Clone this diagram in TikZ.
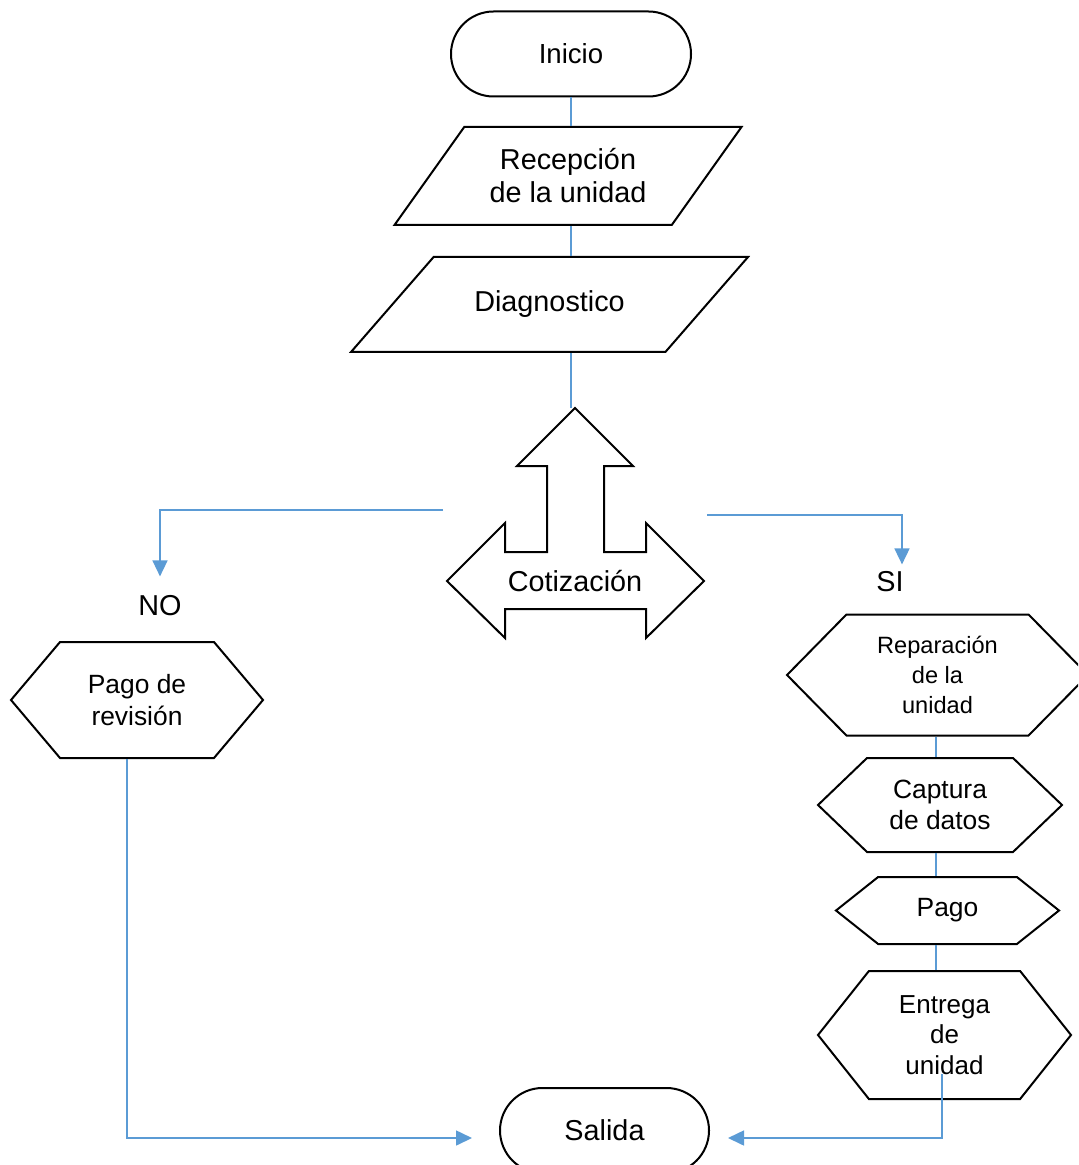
\documentclass[tikz,border=0pt]{standalone}
\usepackage{fontspec}
\setmainfont{Liberation Sans}
\usetikzlibrary{shapes.geometric,shapes.misc,shapes.symbols,arrows.meta}
\definecolor{flowblue}{HTML}{5B9BD5}

\tikzset{
  box/.style={draw,line width=1pt,align=center,inner sep=0pt},
  txt/.style={font=\fontsize{13.2}{15.8}\selectfont},
  bigtxt/.style={font=\fontsize{14.4}{16.5}\selectfont},
  term/.style={box,txt,rounded rectangle,minimum height=42.5pt},
  data/.style={box,bigtxt,trapezium,trapezium stretches body},
  prep/.style={box,txt,signal,signal to=west and east},
  link/.style={draw=flowblue,line width=0.8pt},
  flow/.style={link,-{Triangle[length=8pt,width=7.5pt]}}
}

\begin{document}
\begin{tikzpicture}[x=0.5pt,y=-0.5pt]
    \useasboundingbox (0,0) rectangle (1078,1165);
    \clip (0,0) rectangle (1078,1165);

    \node [term,font=\fontsize{13.8}{16}\selectfont,minimum width=120pt] (ini) at (571,54) {Inicio};
    \node [data,trapezium left angle=38,trapezium right angle=142,
           minimum width=173.5pt,minimum height=49pt] (rec) at (568,176)
          {Recepción\\de la unidad};
    \node [data,trapezium left angle=18,trapezium right angle=162,
           minimum width=198.5pt,minimum height=47.5pt] (diag) at (549.5,304.5)
          {Diagnostico};

    % three way arrow
    \draw [line width=1pt] (575,408) -- (633,466) -- (604,466) -- (604,552)
        -- (646,552) -- (646,523) -- (704,581) -- (646,638) -- (646,609)
        -- (505,609) -- (505,638) -- (447,581) -- (505,523) -- (505,552)
        -- (547,552) -- (547,466) -- (517,466) -- cycle;
    \coordinate (cotTip) at (575,408);
    \node [bigtxt] (cot) at (575,581) {Cotización};

    \node [bigtxt,inner sep=0pt] (no) at (160,606) {NO};
    \node [bigtxt,inner sep=0pt] (si) at (890,582) {SI};

    \node [prep,signal pointer angle=99.6,minimum width=126pt,minimum height=58pt]
          (pr) at (137,700) {Pago de\\revisión};

    \node [prep,font=\fontsize{11.8}{15}\selectfont,signal pointer angle=91,
           minimum width=150.5pt,minimum height=60.5pt]
          (rep) at (937.5,675) {Reparación\\de la\\unidad};
    \node [prep,signal pointer angle=87.6,minimum width=122pt,minimum height=47pt]
          (cap) at (940,805) {Captura\\de datos};
    \node [prep,signal pointer angle=77,minimum width=111.5pt,minimum height=33.5pt]
          (pago) at (947.5,910.5) {Pago};
    \node [prep,font=\fontsize{13}{15.3}\selectfont,signal pointer angle=103,
           minimum width=126.5pt,minimum height=64pt]
          (ent) at (944.5,1035) {Entrega\\de\\unidad};

    \node [term,bigtxt,minimum width=104.5pt] (sal) at (604.5,1130.5) {Salida};

    % main line
    \draw [link] (ini.south) -- (ini.south |- rec.north);
    \draw [link] (ini.south |- rec.south) -- (ini.south |- diag.north);
    \draw [link] (ini.south |- diag.south) -- (ini.south |- cotTip);

    % branches
    \coordinate (noStart) at (443,510);
    \coordinate (siStart) at (707,515);
    \draw [flow,shorten >=9.5pt] (noStart) -| (no.north);
    \draw [flow,shorten >=3.5pt] (siStart) -| ([xshift=6pt]si.north);

    % right column
    \draw [link] ([xshift=-0.75pt]rep.south) -- ([xshift=-0.75pt]rep.south |- cap.north);
    \draw [link] ([xshift=-0.75pt]rep.south |- cap.south) -- ([xshift=-0.75pt]rep.south |- pago.north);
    \draw [link] ([xshift=-0.75pt]rep.south |- pago.south) -- ([xshift=-0.75pt]rep.south |- ent.north);

    % to exit
    \draw [flow] ([xshift=-5pt]pr.south) |- ([xshift=-13.5pt,yshift=-3.75pt]sal.west);
    \draw [flow] ([xshift=-1.25pt,yshift=13pt]ent.south) |- ([xshift=9pt,yshift=-3.75pt]sal.east);
\end{tikzpicture}
\end{document}
